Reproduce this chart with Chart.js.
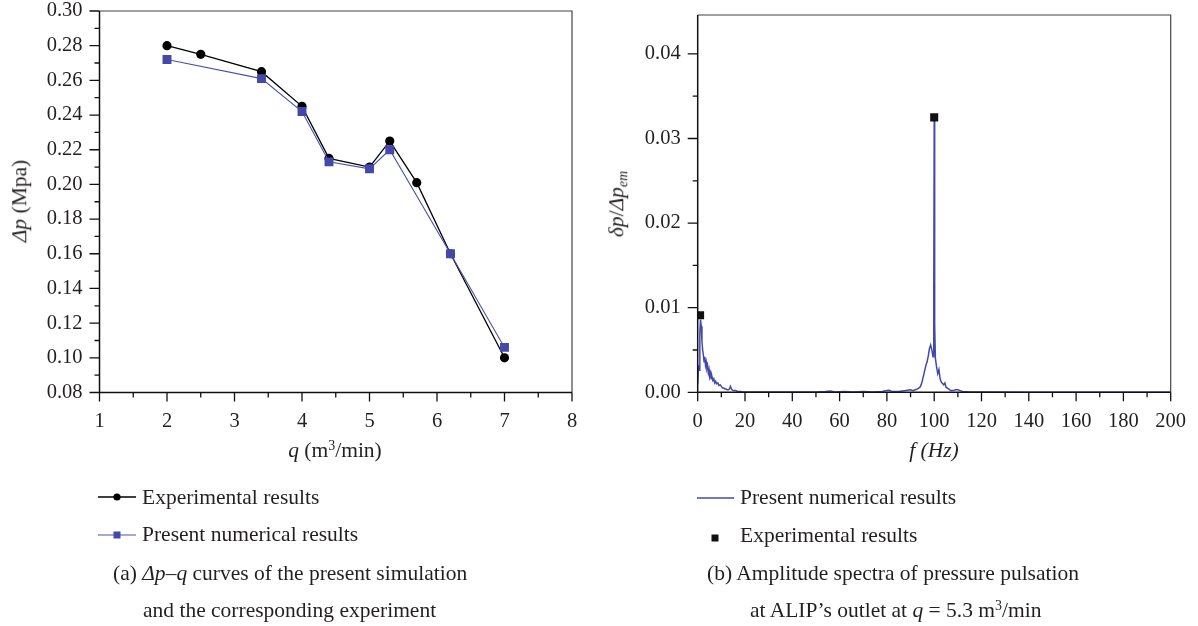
<!DOCTYPE html>
<html>
<head>
<meta charset="utf-8">
<script src="https://cdn.jsdelivr.net/npm/chart.js@4.4.1/dist/chart.umd.min.js"></script>
<style>
  html, body { margin:0; padding:0; background:#fff; }
  body { width:1198px; height:626px; position:relative; overflow:hidden; font-family:"Liberation Serif", "DejaVu Serif", serif; color:#231f20; }
  .cv { position:absolute; top:0; }
  .t { position:absolute; white-space:nowrap; font-size:21.5px; line-height:1; }
  .rot { transform:translate(-50%,-50%) rotate(-90deg); }
  .ctr { transform:translate(-50%,-50%); }
  .lg { position:absolute; white-space:nowrap; font-size:21.5px; line-height:1; transform:translateY(-50%); }
  sup { font-size:0.65em; vertical-align:0.55em; line-height:0; }
  sub { font-size:0.65em; vertical-align:-0.3em; line-height:0; }
  svg { position:absolute; overflow:visible; }
</style>
</head>
<body>
<div class="cv" style="left:0px;"><canvas id="c1" width="600" height="445"></canvas></div>
<div class="cv" style="left:600px;"><canvas id="c2" width="598" height="445"></canvas></div>

<div class="t rot" style="left:20px; top:201px;"><i>Δp</i> (Mpa)</div>
<div class="t ctr" style="left:335px; top:451px;"><i>q</i> (m<sup>3</sup>/min)</div>
<div class="t rot" style="left:617px; top:204px;"><i>δp</i>/<i>Δp<sub>em</sub></i></div>
<div class="t ctr" style="left:934px; top:451px;"><i>f</i> <i>(Hz)</i></div>

<svg style="left:0;top:0;" width="1198" height="626">
  <line x1="98" y1="497" x2="136" y2="497" stroke="#000" stroke-width="1.4"/>
  <circle cx="117" cy="497" r="3.6" fill="#000"/>
  <line x1="98" y1="535" x2="136" y2="535" stroke="#4a52b0" stroke-width="1.2"/>
  <rect x="113.5" y="531.5" width="7" height="7" fill="#4349a9"/>
  <line x1="697" y1="498" x2="734" y2="498" stroke="#4349a9" stroke-width="1.3"/>
  <rect x="711.5" y="534.5" width="7" height="7" fill="#111"/>
</svg>

<div class="lg" style="left:142px; top:498px;">Experimental results</div>
<div class="lg" style="left:142px; top:535px;">Present numerical results</div>
<div class="lg" style="left:113px; top:574px;">(a) <i>Δp</i>–<i>q</i> curves of the present simulation</div>
<div class="lg" style="left:143px; top:611px;">and the corresponding experiment</div>

<div class="lg" style="left:740px; top:498px;">Present numerical results</div>
<div class="lg" style="left:740px; top:536px;">Experimental results</div>
<div class="lg" style="left:707px; top:574px;">(b) Amplitude spectra of pressure pulsation</div>
<div class="lg" style="left:750px; top:611px;">at ALIP’s outlet at <i>q</i> = 5.3 m<sup>3</sup>/min</div>

<script>
// ---------- Data: left chart (Δp–q) ----------
const expQ  = [2, 2.5, 3.4, 4, 4.4, 5, 5.3, 5.7, 6.2, 7];
const expDp = [0.280, 0.275, 0.265, 0.245, 0.215, 0.210, 0.225, 0.201, 0.160, 0.100];
const numQ  = [2, 3.4, 4, 4.4, 5, 5.3, 6.2, 7];
const numDp = [0.272, 0.261, 0.242, 0.213, 0.209, 0.220, 0.160, 0.106];
const leftXTicks = [1, 2, 3, 4, 5, 6, 7, 8];
const leftYTicks = [0.08, 0.10, 0.12, 0.14, 0.16, 0.18, 0.20, 0.22, 0.24, 0.26, 0.28, 0.30];

// ---------- Data: right chart (spectrum) ----------
const specF = [0, 0.3, 0.6, 0.9, 1.2, 1.5, 1.8, 2.1, 2.4, 2.7, 3.0, 3.3, 3.6, 3.9, 4.2, 4.5, 4.8, 5.1, 5.4, 5.7,
  6.0, 6.4, 6.8, 7.2, 7.6, 8.0, 8.5, 9.0, 9.5, 10, 10.5, 11, 11.5, 12, 12.5, 13, 13.5, 13.8, 14.5, 15, 16, 17, 18, 19,
  20, 25, 30, 40, 50, 54, 56, 58, 62, 66, 70, 74, 78, 80, 81, 82, 85, 88, 90, 91,
  92, 93, 94, 94.5, 95, 95.5, 96, 96.5, 97, 97.5, 98, 98.5, 99, 99.5, 99.8, 100, 100.2, 100.5, 101, 101.5, 102,
  102.5, 103, 104, 104.5, 105, 106, 107, 108, 109, 110, 111, 112, 115, 120, 140, 160, 180, 200];
const specA = [0.0010, 0.0032, 0.0026, 0.0070, 0.0086, 0.0078, 0.0060, 0.0050, 0.0044, 0.0036, 0.0042, 0.0032, 0.0036, 0.0028, 0.0031, 0.0023, 0.0027, 0.0019, 0.0022, 0.0016,
  0.0019, 0.0014, 0.0016, 0.0011, 0.0013, 0.0010, 0.0011, 0.0008, 0.0009, 0.0007, 0.0005, 0.0005, 0.0004, 0.0004, 0.0003, 0.0003, 0.0004, 0.0007, 0.0003, 0.0002, 0.0002, 0.0001, 0.0001, 0.00006,
  0.00005, 0.00004, 0.00003, 0.00003, 0.00005, 0.0001, 0.00015, 0.00005, 0.0001, 0.00005, 0.0001, 0.00005, 0.0001, 0.0002, 0.00025, 0.0001, 0.0001, 0.0002, 0.0003, 0.0002,
  0.0003, 0.0004, 0.0006, 0.0009, 0.0014, 0.0020, 0.0026, 0.0032, 0.0036, 0.0043, 0.0052, 0.0056, 0.0050, 0.0042, 0.0100, 0.0322, 0.0080, 0.0040, 0.0030, 0.0022, 0.0027,
  0.0016, 0.0012, 0.0009, 0.0011, 0.0006, 0.0004, 0.0002, 0.0002, 0.0003, 0.0003, 0.0002, 0.0001, 0.00005, 0.00003, 0.00002, 0.00002, 0.00002, 0.00002];
const specExpF = [1, 100];
const specExpA = [0.0091, 0.0325];
const rightXTicks = [0, 20, 40, 60, 80, 100, 120, 140, 160, 180, 200];
const rightYTicks = [0.00, 0.01, 0.02, 0.03, 0.04];

Chart.defaults.font.family = '"Liberation Serif", "DejaVu Serif", serif';
Chart.defaults.font.size = 20.5;
Chart.defaults.color = '#231f20';

// plugin: frame + outward major/minor ticks, drawn from the chart's scales
const frameTicks = {
  id: 'frameTicks',
  afterDraw(chart, args, opts) {
    const ctx = chart.ctx, a = chart.chartArea;
    const xs = chart.scales.x, ys = chart.scales.y;
    ctx.save();
    ctx.strokeStyle = '#444'; ctx.lineWidth = 1.2;
    ctx.beginPath();
    ctx.moveTo(a.left, a.top); ctx.lineTo(a.right, a.top); ctx.lineTo(a.right, a.bottom);
    ctx.stroke();
    ctx.strokeStyle = '#111'; ctx.lineWidth = 1.5;
    ctx.beginPath();
    ctx.moveTo(a.left, a.top); ctx.lineTo(a.left, a.bottom); ctx.lineTo(a.right, a.bottom);
    ctx.stroke();
    ctx.lineWidth = 1.3;
    ctx.beginPath();
    const nx = Math.round((xs.max - xs.min) / opts.xMinor);
    for (let i = 0; i <= nx; i++) {
      const v = xs.min + i * opts.xMinor;
      const p = xs.getPixelForValue(v);
      const len = (i % opts.xEvery === 0) ? 9 : 5;
      ctx.moveTo(p, a.bottom); ctx.lineTo(p, a.bottom + len);
    }
    const ny = Math.floor((ys.max - ys.min) / opts.yMinor + 1e-6);
    for (let i = 0; i <= ny; i++) {
      const v = ys.min + i * opts.yMinor;
      const p = ys.getPixelForValue(v);
      const len = (i % opts.yEvery === 0) ? 10 : 5;
      ctx.moveTo(a.left, p); ctx.lineTo(a.left - len, p);
    }
    ctx.stroke();
    ctx.restore();
  }
};

function fixedTicks(list) {
  return function(scale) { scale.ticks = list.map(v => ({ value: v })); };
}
function fitTo(prop, size) {
  return function(s) {
    s[prop] = size;
    s.paddingTop = 0; s.paddingBottom = 0; s.paddingLeft = 0; s.paddingRight = 0;
  };
}

new Chart(document.getElementById('c1'), {
  type: 'scatter',
  data: {
    datasets: [
      { label: 'Present numerical results', data: numQ.map((q, i) => ({ x: q, y: numDp[i] })),
        showLine: true, borderColor: '#4a52b0', borderWidth: 1.1, backgroundColor: '#4349a9',
        pointStyle: 'rect', pointRadius: 6.3, pointHoverRadius: 6.3, pointBorderWidth: 0 },
      { label: 'Experimental results', data: expQ.map((q, i) => ({ x: q, y: expDp[i] })),
        showLine: true, borderColor: '#000', borderWidth: 1.3, backgroundColor: '#000',
        pointStyle: 'circle', pointRadius: 4.6, pointHoverRadius: 4.6, pointBorderWidth: 0 }
    ]
  },
  options: {
    responsive: false, animation: false, events: [],
    layout: { padding: { left: 0, top: 11, right: 28, bottom: 0 } },
    plugins: { legend: { display: false }, tooltip: { enabled: false },
      frameTicks: { xMinor: 0.5, xEvery: 2, yMinor: 0.01, yEvery: 2 } },
    scales: {
      x: { type: 'linear', min: 1, max: 8, grid: { display: false, drawTicks: false }, border: { display: false },
        afterBuildTicks: fixedTicks(leftXTicks),
        afterFit: fitTo('height', 52.5),
        ticks: { padding: 17, callback: v => String(v) } },
      y: { type: 'linear', min: 0.08, max: 0.30, grid: { display: false, drawTicks: false }, border: { display: false },
        afterBuildTicks: fixedTicks(leftYTicks),
        afterFit: fitTo('width', 99.5),
        ticks: { padding: 17, callback: v => v.toFixed(2) } }
    }
  },
  plugins: [frameTicks]
});

new Chart(document.getElementById('c2'), {
  type: 'scatter',
  data: {
    datasets: [
      { label: 'Experimental results', data: specExpF.map((f, i) => ({ x: f, y: specExpA[i] })),
        showLine: false, backgroundColor: '#111', pointStyle: 'rect', pointRadius: 5.7, pointHoverRadius: 5.7, pointBorderWidth: 0 },
      { label: 'Present numerical results', data: specF.map((f, i) => ({ x: f, y: specA[i] })),
        showLine: true, borderColor: '#4349a9', borderWidth: 1.5, pointRadius: 0, tension: 0 }
    ]
  },
  options: {
    responsive: false, animation: false, events: [],
    layout: { padding: { left: 0, top: 15, right: 27.3, bottom: 0 } },
    plugins: { legend: { display: false }, tooltip: { enabled: false },
      frameTicks: { xMinor: 10, xEvery: 2, yMinor: 0.005, yEvery: 2 } },
    scales: {
      x: { type: 'linear', min: 0, max: 200, grid: { display: false, drawTicks: false }, border: { display: false },
        afterBuildTicks: fixedTicks(rightXTicks),
        afterFit: fitTo('height', 52.7),
        ticks: { padding: 17, callback: v => String(v) } },
      y: { type: 'linear', min: 0, max: 0.0446, grid: { display: false, drawTicks: false }, border: { display: false },
        afterBuildTicks: fixedTicks(rightYTicks),
        afterFit: fitTo('width', 97.7),
        ticks: { padding: 17, callback: v => v.toFixed(2) } }
    }
  },
  plugins: [frameTicks]
});
</script>
</body>
</html>
